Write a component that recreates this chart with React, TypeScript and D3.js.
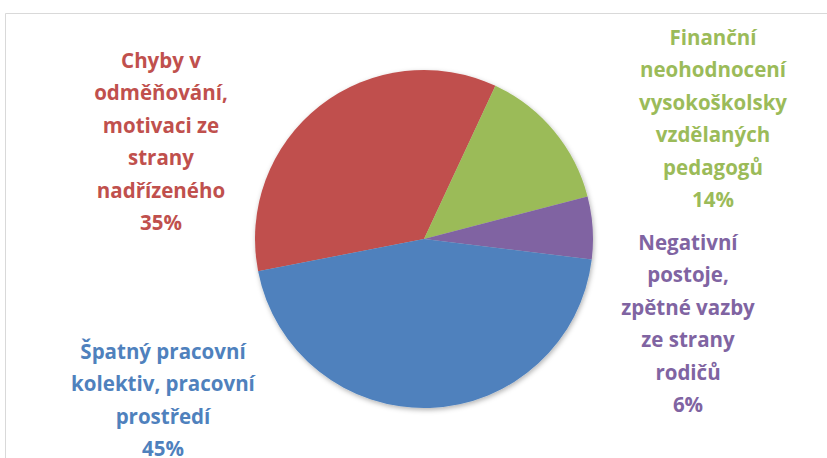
import React from 'react';
import * as d3 from 'd3';

// clockwise order, starting at the red slice
const categories = [
  'Chyby v odměňování, motivaci ze strany nadřízeného',
  'Finanční neohodnocení vysokoškolsky vzdělaných pedagogů',
  'Negativní postoje, zpětné vazby ze strany rodičů',
  'Špatný pracovní kolektiv, pracovní prostředí',
];
const values = [35, 14, 6, 45];
const colors = ['#C0504D', '#9BBB59', '#8064A2', '#4F81BD'];
// label text broken into lines as in the original
const labelLines = [
  ['Chyby v', 'odměňování,', 'motivaci ze', 'strany', 'nadřízeného'],
  ['Finanční', 'neohodnocení', 'vysokoškolsky', 'vzdělaných', 'pedagogů'],
  ['Negativní', 'postoje,', 'zpětné vazby', 'ze strany', 'rodičů'],
  ['Špatný pracovní', 'kolektiv, pracovní', 'prostředí'],
];

const W = 827;
const H = 458;
const cx = 424;
const cy = 239;
const radius = 169;
const startDeg = -101;
const lineH = 32.4;
// top-line centre of every label block
const labelAnchor = [
  { x: 161, y: 60 },
  { x: 713, y: 37 },
  { x: 688, y: 242 },
  { x: 163, y: 351 },
];

const App: React.FC = () => {
  const total = d3.sum(values);
  const pie = d3.pie<number>()
    .sort(null)
    .value(d => d)
    .startAngle((startDeg * Math.PI) / 180)
    .endAngle((startDeg * Math.PI) / 180 + 2 * Math.PI);
  const arcs = pie(values);
  const arc = d3.arc<d3.PieArcDatum<number>>().innerRadius(0).outerRadius(radius);
  const fmt = d3.format('.0%');

  return (
    <div style={{ position: 'absolute', left: 0, top: 0 }}>
      <svg width={W} height={H} style={{ display: 'block' }}>
        <defs>
          <filter id="sh" x="-20%" y="-20%" width="140%" height="140%">
            <feDropShadow dx="1" dy="2" stdDeviation="2.5" floodColor="#000" floodOpacity="0.3" />
          </filter>
        </defs>
        <rect x={0} y={0} width={W} height={H} fill="#fff" />
        <path d={`M5.5,${H} V13.5 H${W}`} fill="none" stroke="#D9D9D9" strokeWidth={1} />
        <g transform={`translate(${cx},${cy})`} filter="url(#sh)">
          {arcs.map((a, i) => (
            <path key={categories[i]} d={arc(a) || ''} fill={colors[i]} />
          ))}
        </g>
        {labelLines.map((lines, i) => (
          <text
            key={categories[i]}
            textAnchor="middle"
            fill={colors[i]}
            fontFamily="'Open Sans', sans-serif"
            fontWeight="bold"
            fontSize={20.5}
          >
            {[...lines, fmt(values[i] / total)].map((t, j) => (
              <tspan key={j} x={labelAnchor[i].x} y={labelAnchor[i].y + j * lineH} dominantBaseline="central">
                {t}
              </tspan>
            ))}
          </text>
        ))}
      </svg>
    </div>
  );
};

export default App;
